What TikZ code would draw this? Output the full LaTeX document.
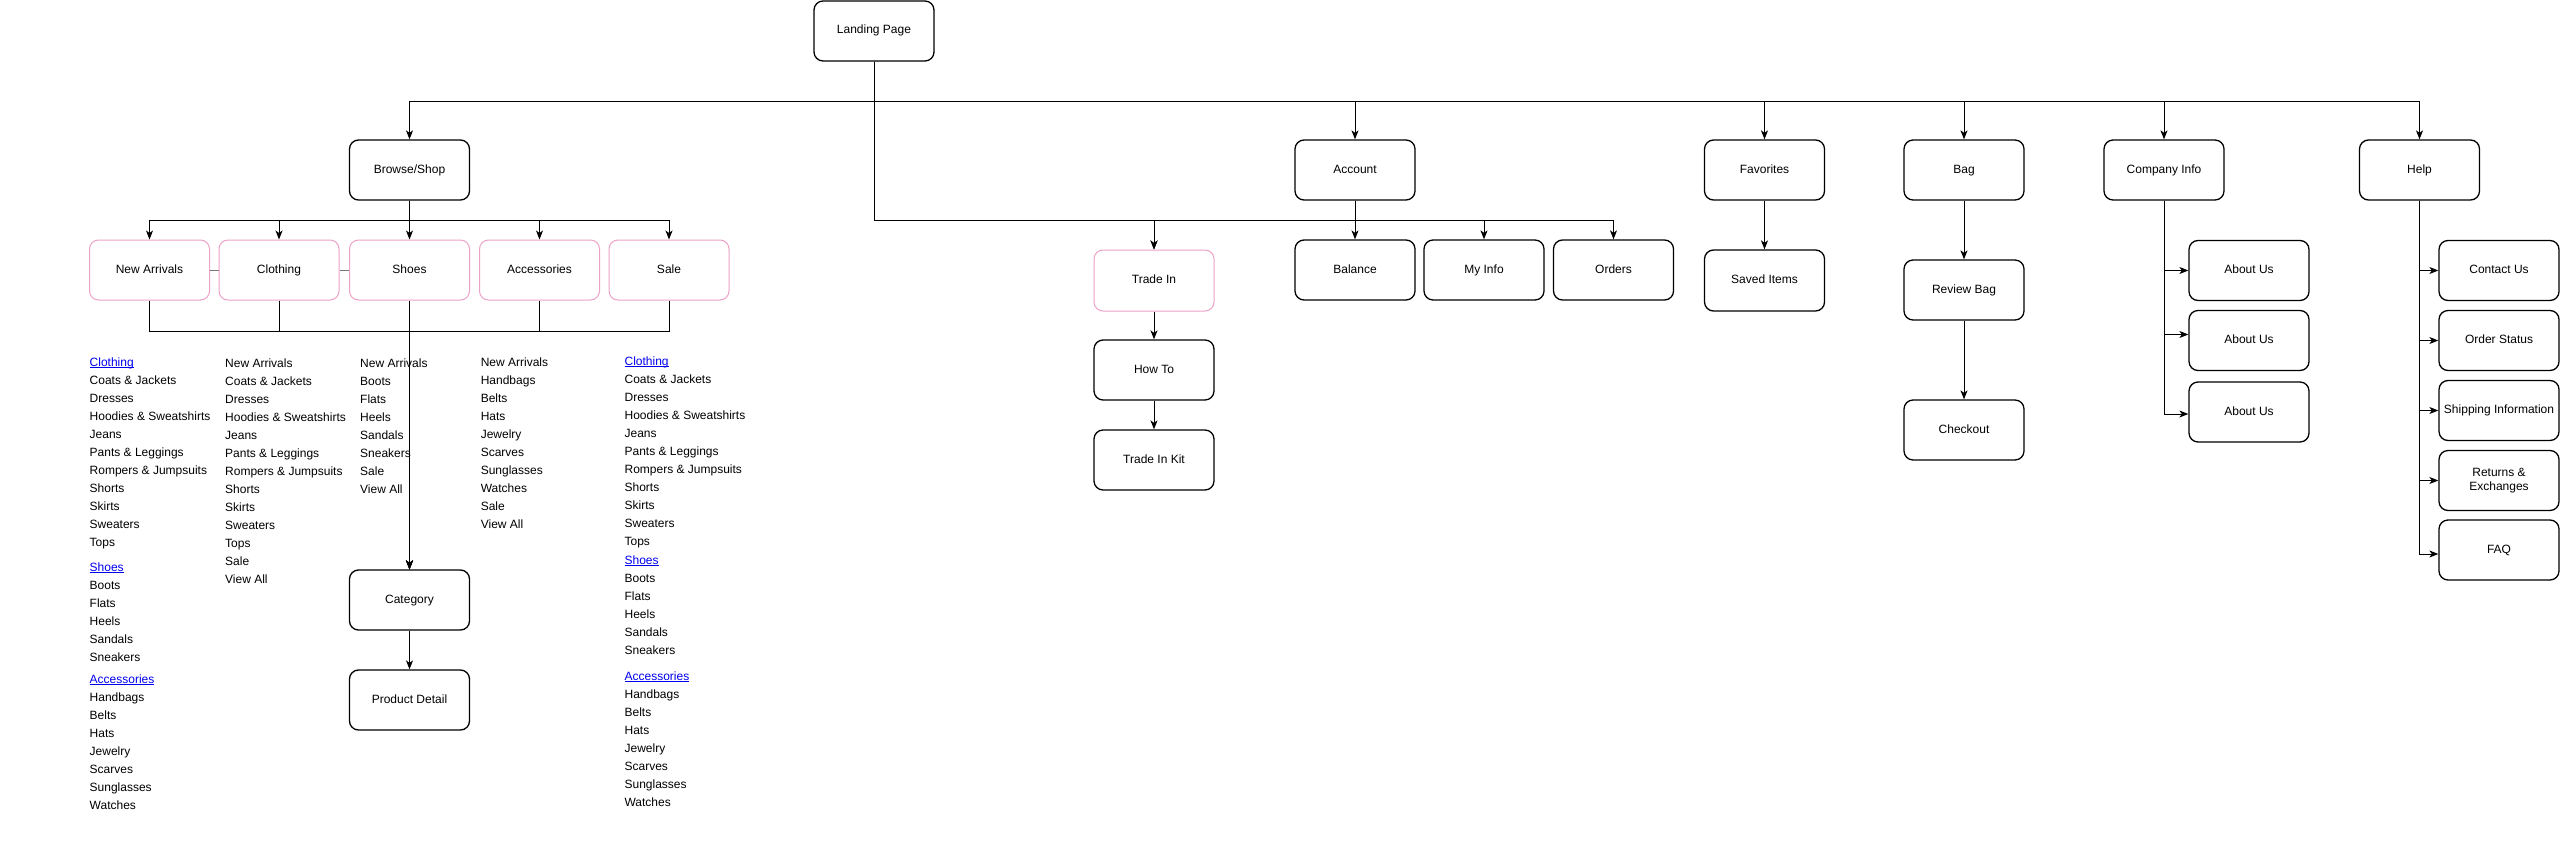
\documentclass[tikz,border=0pt]{standalone}
\usepackage{fontspec}
\setmainfont{Liberation Sans}
\usetikzlibrary{arrows.meta}
\definecolor{pinkb}{RGB}{236,162,200}
\definecolor{linkb}{RGB}{0,0,238}
\definecolor{grayl}{RGB}{120,120,120}
\newcommand{\lnk}[1]{\textcolor{linkb}{\setbox0\hbox{#1}\rlap{\rule[-1.8pt]{\wd0}{0.9pt}}\box0}}
\begin{document}
\begin{tikzpicture}[x=1pt,y=-1pt,
  boxbase/.style={draw=black, line width=1.3pt, rounded corners=9pt, minimum width=120pt, minimum height=60pt, inner sep=0pt, align=center, font=\fontsize{12pt}{14pt}\selectfont},
  box/.style={boxbase, text height=9pt, text depth=3pt},
  pbox/.style={box, draw=pinkb, line width=1pt},
  arr/.style={line width=1pt, -{Stealth[length=9pt,width=7pt,inset=2.5pt]}},
  ln/.style={line width=1pt},
  item/.style={anchor=base west, inner sep=0pt, font=\fontsize{12pt}{14pt}\selectfont}]
\useasboundingbox (0,0) rectangle (2560,843);
\fill[white] (0,0) rectangle (2560,843);

% top level
\node[box] (lp) at (874,31) {Landing Page};
\node[box] (browse) at (409.5,170) {Browse/Shop};
\node[box] (account) at (1355,170) {Account};
\node[box] (fav) at (1764.5,170) {Favorites};
\node[box] (bag) at (1964,170) {Bag};
\node[box] (ci) at (2164,170) {Company Info};
\node[box] (help) at (2419.5,170) {Help};

% browse children
\node[pbox] (na) at (149.5,270) {New Arrivals};
\node[pbox] (cl) at (279,270) {Clothing};
\node[pbox] (sh) at (409.5,270) {Shoes};
\node[pbox] (ac) at (539.5,270) {Accessories};
\node[pbox] (sa) at (669,270) {Sale};
\node[box] (cat) at (409.5,600) {Category};
\node[box] (pd) at (409.5,700) {Product Detail};

% trade in
\node[pbox, minimum height=61pt] (ti) at (1154,280.5) {Trade In};
\node[box] (howto) at (1154,370) {How To};
\node[box] (kit) at (1154,460) {Trade In Kit};

% account children
\node[box] (bal) at (1355,270) {Balance};
\node[box] (myinfo) at (1484,270) {My Info};
\node[box] (orders) at (1613.5,270) {Orders};

% favorites / bag
\node[box, minimum height=61pt] (saved) at (1764.5,280.5) {Saved Items};
\node[box] (review) at (1964,290) {Review Bag};
\node[box] (checkout) at (1964,430) {Checkout};

% company info
\node[box] (au1) at (2249,270.5) {About Us};
\node[box] (au2) at (2249,340.5) {About Us};
\node[box] (au3) at (2249,412) {About Us};

% help
\node[box] (contact) at (2499,270.5) {Contact Us};
\node[box] (ostatus) at (2499,340.5) {Order Status};
\node[box] (ship) at (2499,410.5) {Shipping Information};
\node[boxbase] (ret) at (2499,480.5) {Returns \&\\Exchanges};
\node[box] (faq) at (2499,550) {FAQ};

% text lists
\node[item] (c1h1) at (89.5,366) {\lnk{Clothing}};
\foreach \txt [count=\i] in {Coats \& Jackets,Dresses,Hoodies \& Sweatshirts,Jeans,Pants \& Leggings,Rompers \& Jumpsuits,Shorts,Skirts,Sweaters,Tops}
  \node[item] (c1a\i) at (89.5,366+18*\i) {\txt};
\node[item] (c1h2) at (89.5,571) {\lnk{Shoes}};
\foreach \txt [count=\i] in {Boots,Flats,Heels,Sandals,Sneakers}
  \node[item] (c1b\i) at (89.5,571+18*\i) {\txt};
\node[item] (c1h3) at (89.5,683) {\lnk{Accessories}};
\foreach \txt [count=\i] in {Handbags,Belts,Hats,Jewelry,Scarves,Sunglasses,Watches}
  \node[item] (c1c\i) at (89.5,683+18*\i) {\txt};

\foreach \txt [count=\i from 0] in {New Arrivals,Coats \& Jackets,Dresses,Hoodies \& Sweatshirts,Jeans,Pants \& Leggings,Rompers \& Jumpsuits,Shorts,Skirts,Sweaters,Tops,Sale,View All}
  \node[item] (c2a\i) at (225,367+18*\i) {\txt};
\foreach \txt [count=\i from 0] in {New Arrivals,Boots,Flats,Heels,Sandals,Sneakers,Sale,View All}
  \node[item] (c3a\i) at (360,367+18*\i) {\txt};
\foreach \txt [count=\i from 0] in {New Arrivals,Handbags,Belts,Hats,Jewelry,Scarves,Sunglasses,Watches,Sale,View All}
  \node[item] (c4a\i) at (480.6,366+18*\i) {\txt};

\node[item] (c5h1) at (624.4,365) {\lnk{Clothing}};
\foreach \txt [count=\i] in {Coats \& Jackets,Dresses,Hoodies \& Sweatshirts,Jeans,Pants \& Leggings,Rompers \& Jumpsuits,Shorts,Skirts,Sweaters,Tops}
  \node[item] (c5a\i) at (624.4,365+18*\i) {\txt};
\node[item] (c5h2) at (624.4,564) {\lnk{Shoes}};
\foreach \txt [count=\i] in {Boots,Flats,Heels,Sandals,Sneakers}
  \node[item] (c5b\i) at (624.4,564+18*\i) {\txt};
\node[item] (c5h3) at (624.4,680) {\lnk{Accessories}};
\foreach \txt [count=\i] in {Handbags,Belts,Hats,Jewelry,Scarves,Sunglasses,Watches}
  \node[item] (c5c\i) at (624.4,680+18*\i) {\txt};

% connectors: landing page
\foreach \t in {browse,account,fav,bag,ci,help}
  \draw[arr] (lp.south) -- ++(0,39.5) -| (\t.north);
\draw[arr] (lp.south) -- ++(0,159) -| (ti.north);

% browse
\foreach \t in {na,cl,sh,ac,sa}
  \draw[arr] (browse.south) -- ++(0,20) -| (\t.north);
\foreach \t in {na,cl,sh,ac,sa}
  \draw[arr] (\t.south) -- ++(0,31) -| (cat.north);
\draw[ln, grayl] (na.east) -- (cl.west);
\draw[ln, grayl] (cl.east) -- (sh.west);
\draw[arr] (cat.south) -- (pd.north);

% trade in
\draw[arr] (ti.south) -- (howto.north);
\draw[arr] (howto.south) -- (kit.north);

% account
\foreach \t in {ti,bal,myinfo,orders}
  \draw[arr] (account.south) -- ++(0,20) -| (\t.north);

% favorites, bag
\draw[arr] (fav.south) -- (saved.north);
\draw[arr] (bag.south) -- (review.north);
\draw[arr] (review.south) -- (checkout.north);

% company info
\draw[arr] (ci.south) |- (au1.west);
\draw[arr] (ci.south) |- ([yshift=6pt]au2.west);
\draw[arr] (ci.south) |- ([yshift=-2pt]au3.west);

% help
\foreach \t in {contact,ostatus,ship,ret}
  \draw[arr] (help.south) |- (\t.west);
\draw[arr] (help.south) |- ([yshift=-4pt]faq.west);
\end{tikzpicture}
\end{document}
